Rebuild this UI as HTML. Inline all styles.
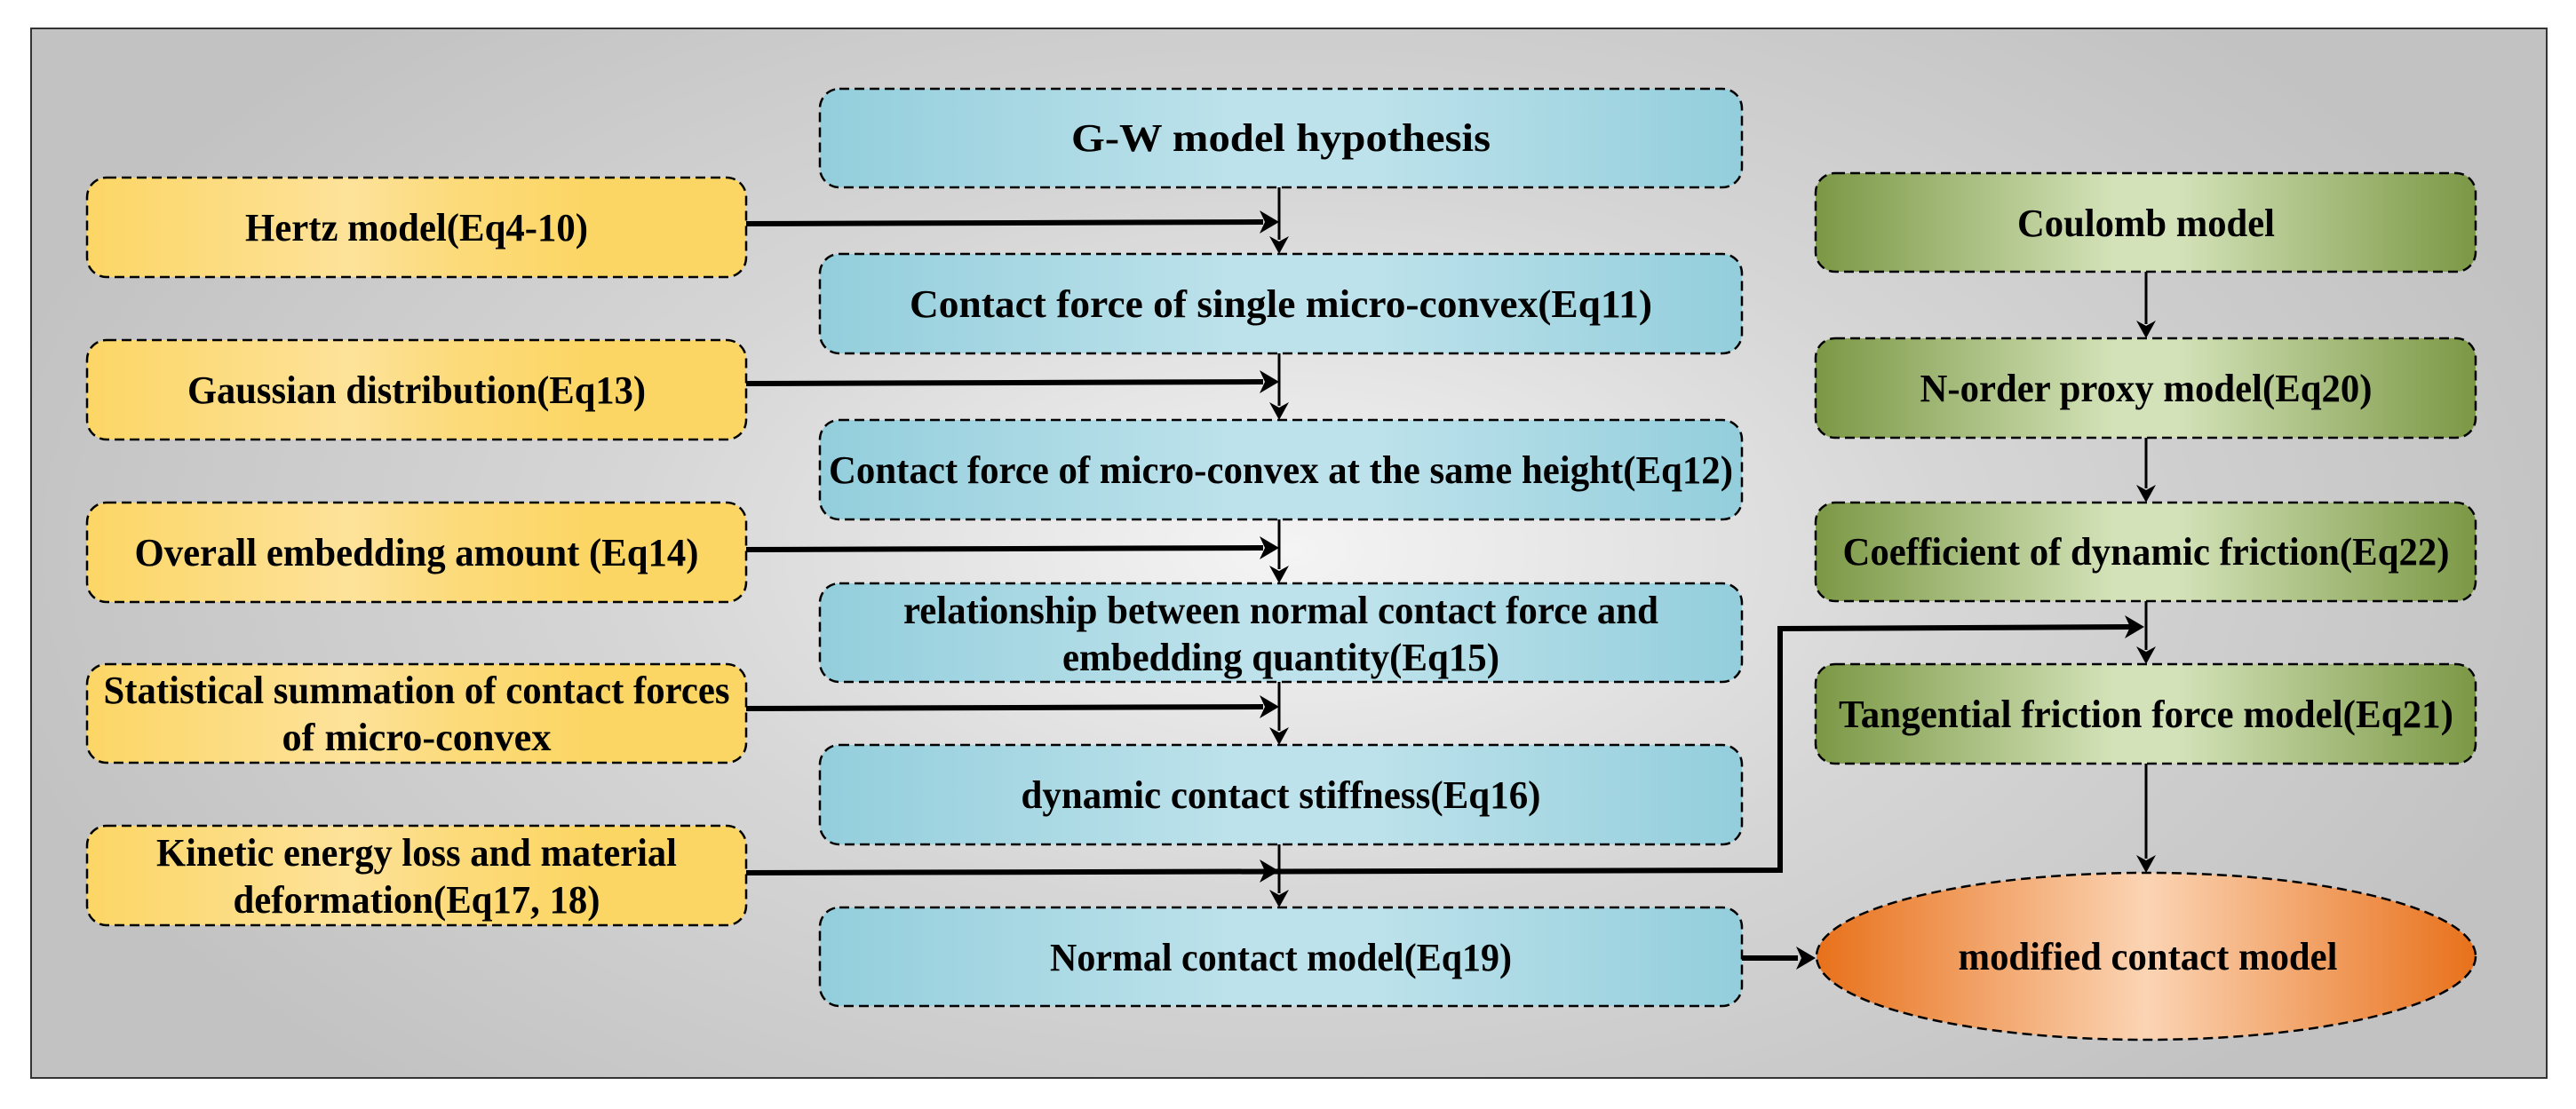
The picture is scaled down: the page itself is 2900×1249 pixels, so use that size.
<!DOCTYPE html>
<html><head><meta charset="utf-8"><style>html,body{margin:0;padding:0;background:#fff}svg{display:block}</style></head>
<body>
<svg width="2900" height="1249" viewBox="0 0 2900 1249" xmlns="http://www.w3.org/2000/svg">
<defs>
<radialGradient id="bg" cx="1450" cy="620" r="1500" gradientUnits="userSpaceOnUse" gradientTransform="translate(1450 620) scale(1 0.55) translate(-1450 -620)">
<stop offset="0" stop-color="#f4f4f4"/><stop offset="0.5" stop-color="#d6d6d6"/><stop offset="1" stop-color="#c2c2c2"/></radialGradient>
<linearGradient id="yl" x1="0" x2="1" y1="0" y2="0"><stop offset="0" stop-color="#fcd665"/><stop offset="0.4" stop-color="#fde29a"/><stop offset="0.55" stop-color="#fcdb7c"/><stop offset="0.75" stop-color="#fcd665"/><stop offset="1" stop-color="#fcd665"/></linearGradient>
<linearGradient id="bl" x1="0" x2="1" y1="0" y2="0"><stop offset="0" stop-color="#93cedc"/><stop offset="0.45" stop-color="#bde2eb"/><stop offset="0.6" stop-color="#bde2eb"/><stop offset="1" stop-color="#93cedc"/></linearGradient>
<linearGradient id="gr" x1="0" x2="1" y1="0" y2="0"><stop offset="0" stop-color="#7b9845"/><stop offset="0.45" stop-color="#d3e2b8"/><stop offset="0.55" stop-color="#d3e2b8"/><stop offset="1" stop-color="#7b9845"/></linearGradient>
<linearGradient id="or" x1="0" x2="1" y1="0" y2="0"><stop offset="0" stop-color="#e8711b"/><stop offset="0.5" stop-color="#fbd4b4"/><stop offset="1" stop-color="#e8711b"/></linearGradient>
</defs>
<rect x="35" y="32" width="2832" height="1182" fill="url(#bg)" stroke="#333" stroke-width="2"/>
<g stroke="#000" stroke-width="2.5" stroke-dasharray="11 6">
<rect x="98" y="200" width="742" height="112" rx="22" fill="url(#yl)"/>
<rect x="98" y="383" width="742" height="112" rx="22" fill="url(#yl)"/>
<rect x="98" y="566" width="742" height="112" rx="22" fill="url(#yl)"/>
<rect x="98" y="748" width="742" height="111" rx="22" fill="url(#yl)"/>
<rect x="98" y="930" width="742" height="112" rx="22" fill="url(#yl)"/>
<rect x="923" y="100" width="1038" height="111" rx="22" fill="url(#bl)"/>
<rect x="923" y="286" width="1038" height="112" rx="22" fill="url(#bl)"/>
<rect x="923" y="473" width="1038" height="112" rx="22" fill="url(#bl)"/>
<rect x="923" y="657" width="1038" height="111" rx="22" fill="url(#bl)"/>
<rect x="923" y="839" width="1038" height="112" rx="22" fill="url(#bl)"/>
<rect x="923" y="1022" width="1038" height="111" rx="22" fill="url(#bl)"/>
<rect x="2044" y="195" width="743" height="111" rx="22" fill="url(#gr)"/>
<rect x="2044" y="381" width="743" height="112" rx="22" fill="url(#gr)"/>
<rect x="2044" y="566" width="743" height="111" rx="22" fill="url(#gr)"/>
<rect x="2044" y="748" width="743" height="112" rx="22" fill="url(#gr)"/>
<ellipse cx="2416" cy="1077" rx="371" ry="94" fill="url(#or)"/>
</g>
<g stroke="#000" fill="none">
<g stroke-width="3">
<line x1="1440" y1="211" x2="1440" y2="270"/><line x1="1440" y1="398" x2="1440" y2="457"/>
<line x1="1440" y1="585" x2="1440" y2="641"/><line x1="1440" y1="768" x2="1440" y2="823"/>
<line x1="1440" y1="951" x2="1440" y2="1006"/>
<line x1="2416" y1="306" x2="2416" y2="365"/><line x1="2416" y1="493" x2="2416" y2="550"/>
<line x1="2416" y1="677" x2="2416" y2="732"/><line x1="2416" y1="860" x2="2416" y2="967"/>
</g>
<g stroke-width="6">
<line x1="840" y1="252" x2="1422" y2="250"/>
<line x1="840" y1="432" x2="1422" y2="430"/>
<line x1="840" y1="619" x2="1422" y2="617"/>
<line x1="840" y1="798" x2="1422" y2="796"/>
<polyline points="840,983 2004,980 2004,708 2398,706"/>
<line x1="1961" y1="1079" x2="2024" y2="1079"/>
</g>
</g>
<g fill="#000">
<path d="M1440 286 l-11 -20 l11 6 l11 -6z"/><path d="M1440 473 l-11 -20 l11 6 l11 -6z"/>
<path d="M1440 657 l-11 -20 l11 6 l11 -6z"/><path d="M1440 839 l-11 -20 l11 6 l11 -6z"/>
<path d="M1440 1022 l-11 -20 l11 6 l11 -6z"/>
<path d="M2416 381 l-11 -20 l11 6 l11 -6z"/><path d="M2416 566 l-11 -20 l11 6 l11 -6z"/>
<path d="M2416 748 l-11 -20 l11 6 l11 -6z"/><path d="M2416 983 l-11 -20 l11 6 l11 -6z"/>
<path d="M1440 250 l-22 -13 l6 13 l-6 13z"/><path d="M1440 430 l-22 -13 l6 13 l-6 13z"/>
<path d="M1440 617 l-22 -13 l6 13 l-6 13z"/><path d="M1440 796 l-22 -13 l6 13 l-6 13z"/>
<path d="M1440 981 l-22 -13 l6 13 l-6 13z"/>
<path d="M2414 706 l-22 -13 l6 13 l-6 13z"/><path d="M2044 1079 l-22 -13 l6 13 l-6 13z"/>
</g>
<g font-family="'Liberation Serif',serif" font-weight="bold" font-size="44" text-anchor="middle" fill="#000">
<text x="469" y="271" textLength="386" lengthAdjust="spacingAndGlyphs">Hertz model(Eq4-10)</text>
<text x="469" y="454" textLength="516" lengthAdjust="spacingAndGlyphs">Gaussian distribution(Eq13)</text>
<text x="469" y="637" textLength="635" lengthAdjust="spacingAndGlyphs">Overall embedding amount (Eq14)</text>
<text x="469" y="792" textLength="705" lengthAdjust="spacingAndGlyphs">Statistical summation of contact forces</text>
<text x="469" y="845" textLength="303" lengthAdjust="spacingAndGlyphs">of  micro-convex</text>
<text x="469" y="975" textLength="586" lengthAdjust="spacingAndGlyphs">Kinetic energy loss and material</text>
<text x="469" y="1028" textLength="413" lengthAdjust="spacingAndGlyphs">deformation(Eq17, 18)</text>
<text x="1442" y="170" textLength="472" lengthAdjust="spacingAndGlyphs">G-W model hypothesis</text>
<text x="1442" y="357" textLength="836" lengthAdjust="spacingAndGlyphs">Contact force of  single micro-convex(Eq11)</text>
<text x="1442" y="544" textLength="1018" lengthAdjust="spacingAndGlyphs">Contact force of micro-convex at the same height(Eq12)</text>
<text x="1442" y="702" textLength="850" lengthAdjust="spacingAndGlyphs">relationship between normal contact force and</text>
<text x="1442" y="755" textLength="492" lengthAdjust="spacingAndGlyphs">embedding quantity(Eq15)</text>
<text x="1442" y="910" textLength="585" lengthAdjust="spacingAndGlyphs">dynamic contact stiffness(Eq16)</text>
<text x="1442" y="1093" textLength="520" lengthAdjust="spacingAndGlyphs">Normal contact model(Eq19)</text>
<text x="2416" y="266" textLength="290" lengthAdjust="spacingAndGlyphs">Coulomb model</text>
<text x="2416" y="452" textLength="509" lengthAdjust="spacingAndGlyphs">N-order proxy model(Eq20)</text>
<text x="2416" y="636" textLength="683" lengthAdjust="spacingAndGlyphs">Coefficient of dynamic friction(Eq22)</text>
<text x="2416" y="819" textLength="692" lengthAdjust="spacingAndGlyphs">Tangential friction force model(Eq21)</text>
<text x="2418" y="1092" textLength="427" lengthAdjust="spacingAndGlyphs">modified contact model</text>
</g>
</svg>
</body></html>
